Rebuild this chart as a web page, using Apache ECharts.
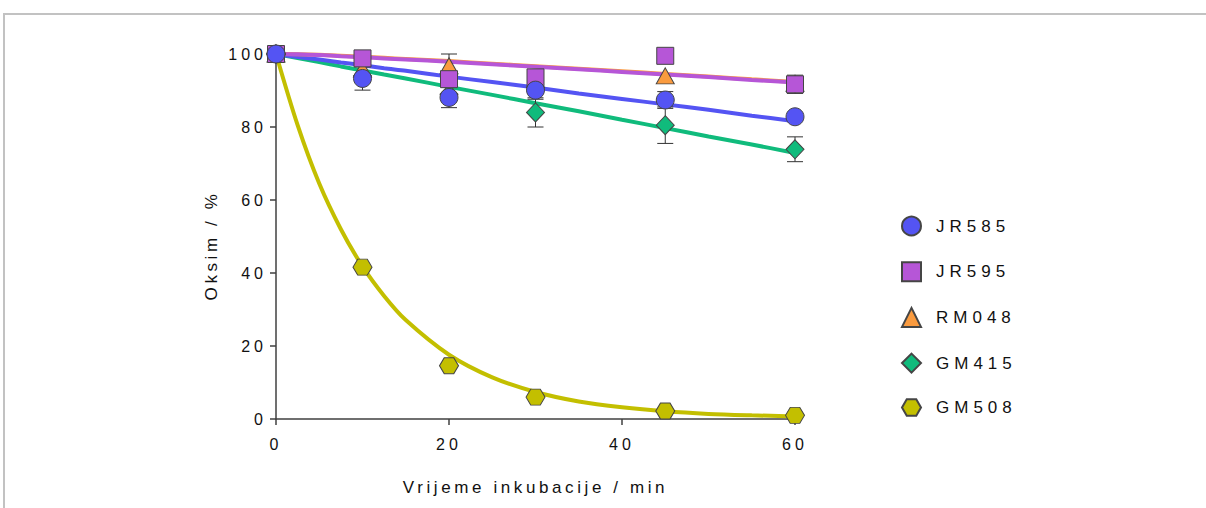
<!DOCTYPE html>
<html><head><meta charset="utf-8">
<script src="https://cdn.jsdelivr.net/npm/echarts@6/dist/echarts.min.js"></script>
<style>
html,body{margin:0;padding:0;background:#fff;}
#chart{width:1206px;height:508px;}
#chart text[style*="AxLbl"]{letter-spacing:4px;}
#chart text[style*="LegTxt"]{letter-spacing:5px;}
#chart text[style*="AxTtl"]{letter-spacing:3.6px;}
</style></head><body><div id="chart"></div>
<script>
// ---- data ----
const times = [0, 10, 20, 30, 45, 60];
const xTicks = [0, 20, 40, 60];
const yTicks = [0, 20, 40, 60, 80, 100];

const jr585 = [100, 93.3, 88.1, 90.1, 87.4, 82.8];
const jr585Err = [0, 3.2, 2.8, 2.5, 2.3, 0];
const jr595 = [100, 98.8, 93.1, 93.6, 99.5, 91.7];
const jr595Err = [0, 0, 0, 0, 0, 2.5];
const rm048 = [100, 95.9, 96.8, 93.0, 94.0, 92.0];
const rm048Err = [0, 0, 3.2, 0, 0, 0];
const gm415 = [100, 94.0, 89.0, 84.0, 80.5, 73.9];
const gm415Err = [0, 0, 0, 4.0, 5.0, 3.4];
const gm508 = [100, 41.6, 14.6, 6.0, 2.2, 1.0];
const gm508Err = [0, 0, 0, 0, 0, 0];

// fitted curves, read at these times
const fitTimes = [0, 2.5, 5, 7.5, 10, 12.5, 15, 20, 25, 30, 35, 40, 45, 50, 55, 60];
const jr585Fit = [100, 99.2, 98.5, 97.7, 96.9, 96.1, 95.4, 93.8, 92.3, 90.8, 89.2, 87.7, 86.2, 84.7, 83.1, 81.6];
const jr595Fit = [100, 99.9, 99.7, 99.4, 99.1, 98.8, 98.5, 97.9, 97.2, 96.5, 95.8, 95.1, 94.4, 93.7, 92.9, 92.2];
const rm048Fit = [100, 99.95, 99.8, 99.55, 99.25, 98.95, 98.65, 98.05, 97.35, 96.65, 95.95, 95.25, 94.55, 93.85, 93.05, 92.35];
const gm415Fit = [100, 98.9, 97.8, 96.6, 95.5, 94.4, 93.3, 91.0, 88.8, 86.5, 84.3, 82.0, 79.7, 77.4, 75.2, 72.9];
const gm508Fit = [100, 80.5, 64.5, 52.0, 41.8, 33.7, 27.1, 17.6, 11.4, 7.4, 4.8, 3.2, 2.1, 1.4, 1.0, 0.7];

const names = ['JR585', 'JR595', 'RM048', 'GM415', 'GM508'];
const xTitle = 'Vrijeme inkubacije / min';
const yTitle = 'Oksim / %';

// ---- styling ----
const colors = {JR585:'#5454F3', JR595:'#B656D7', RM048:'#FA9B3F', GM415:'#10BB7C', GM508:'#C3BF00'};
const hexPath = 'path://M0,8.66 L5,0 L15,0 L20,8.66 L15,17.32 L5,17.32 Z';
const symbols = {JR585:'circle', JR595:'rect', RM048:'triangle', GM415:'diamond', GM508:hexPath};
const sizes = {JR585:18, JR595:17, RM048:[18,16], GM415:[18,19], GM508:[19,16]};
const pts = {JR585:jr585, JR595:jr595, RM048:rm048, GM415:gm415, GM508:gm508};
const errs = {JR585:jr585Err, JR595:jr595Err, RM048:rm048Err, GM415:gm415Err, GM508:gm508Err};
const fits = {JR585:jr585Fit, JR595:jr595Fit, RM048:rm048Fit, GM415:gm415Fit, GM508:gm508Fit};

const LBL = 'AxLbl, "Liberation Sans", Arial, sans-serif';
const LEG = 'LegTxt, "Liberation Sans", Arial, sans-serif';
const TTL = 'AxTtl, "Liberation Sans", Arial, sans-serif';

const series = [];
// fit lines (bottom layer), order so purple on top
['GM508', 'GM415', 'JR585', 'RM048', 'JR595'].forEach(n => {
  series.push({
    name: n + ' fit', type: 'line', smooth: 0.3, symbol: 'none', clip: false, z: 2,
    data: fitTimes.map((t, i) => [t, fits[n][i]]),
    lineStyle: {color: colors[n], width: 4}, itemStyle: {color: colors[n]},
    silent: true, animation: false
  });
});
// error bars
const errData = [];
names.forEach(n => {
  times.forEach((t, i) => {
    const e = errs[n][i];
    if (e > 0) errData.push([t, pts[n][i] - e, pts[n][i] + e]);
  });
});
series.push({
  name: 'err', type: 'custom', z: 3, silent: true, animation: false,
  data: errData,
  renderItem: function (params, api) {
    const x = api.value(0);
    const lo = api.coord([x, api.value(1)]);
    const hi = api.coord([x, api.value(2)]);
    const cw = 8;
    const st = {stroke: '#333', lineWidth: 1, fill: null};
    return {type: 'group', children: [
      {type: 'line', shape: {x1: lo[0], y1: lo[1], x2: hi[0], y2: hi[1]}, style: st},
      {type: 'line', shape: {x1: lo[0] - cw, y1: lo[1], x2: lo[0] + cw, y2: lo[1]}, style: st},
      {type: 'line', shape: {x1: hi[0] - cw, y1: hi[1], x2: hi[0] + cw, y2: hi[1]}, style: st}
    ]};
  }
});
// markers; JR585 drawn last (on top)
['GM508', 'GM415', 'RM048', 'JR595', 'JR585'].forEach(n => {
  series.push({
    name: n, type: 'scatter', z: 4, symbol: symbols[n], symbolSize: sizes[n],
    data: times.map((t, i) => [t, pts[n][i]]),
    itemStyle: {color: colors[n], borderColor: '#454545', borderWidth: 1, opacity: 1},
    animation: false
  });
});

const axisLineStyle = {color: '#404040', width: 1.5};
const option = {
  backgroundColor: '#ffffff',
  animation: false,
  graphic: [{type: 'rect', silent: true, z: -10,
    shape: {x: 4, y: 14, width: 1400, height: 700},
    style: {fill: 'none', stroke: '#c2c2c2', lineWidth: 2}}],
  grid: {left: 276, top: 54, width: 519, height: 365, containLabel: false},
  legend: {
    orient: 'vertical', left: 896, top: 210.5,
    itemWidth: 19, itemHeight: 19, itemGap: 24.7,
    data: names.map(n => ({name: n, icon: symbols[n]})),
    textStyle: {fontFamily: LEG, fontSize: 17, color: '#111', padding: [0, 0, 0, 10]},
    selectedMode: false
  },
  xAxis: {
    type: 'value', min: xTicks[0], max: xTicks[xTicks.length - 1], interval: 20,
    name: xTitle, nameLocation: 'middle', nameGap: 60,
    nameTextStyle: {fontFamily: TTL, fontSize: 17, color: '#111'},
    axisLine: {show: true, lineStyle: axisLineStyle},
    axisTick: {show: true, length: 6, lineStyle: axisLineStyle},
    axisLabel: {fontFamily: LBL, fontSize: 16, color: '#111', margin: 17},
    splitLine: {show: false}
  },
  yAxis: {
    type: 'value', min: yTicks[0], max: yTicks[yTicks.length - 1], interval: 20,
    name: yTitle, nameLocation: 'middle', nameGap: 56, nameRotate: 90,
    nameTextStyle: {fontFamily: TTL, fontSize: 17, color: '#111', padding: [0, 18, 0, 0]},
    axisLine: {show: true, lineStyle: axisLineStyle},
    axisTick: {show: true, length: 6, lineStyle: axisLineStyle},
    axisLabel: {fontFamily: LBL, fontSize: 16, color: '#111', margin: 9},
    splitLine: {show: false}
  },
  series: series
};
const chart = echarts.init(document.getElementById('chart'), null, {renderer: 'svg'});
chart.setOption(option);
</script></body></html>
